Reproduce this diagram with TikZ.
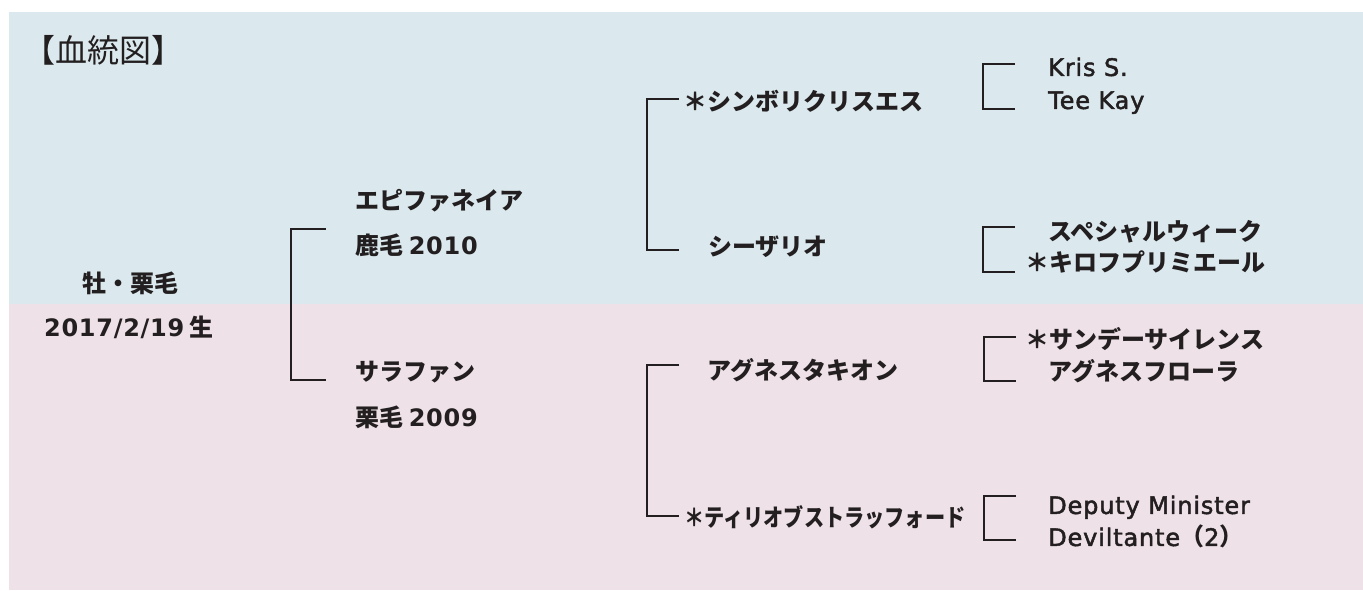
\documentclass[tikz,border=0pt]{standalone}
\usepackage{fontspec}
\setmainfont{Noto Sans CJK JP}
\newfontfamily\latin{DejaVu Sans}[LetterSpace=3]
\newfontfamily\latinmed{DejaVu Sans}[LetterSpace=3.5, FakeBold=2]
\newfontfamily\jpnarrow{Noto Sans CJK JP}[FakeStretch=0.84]
\usepackage{xcolor}
\usepackage{tikz}
\usetikzlibrary{positioning}
\definecolor{bgblue}{RGB}{219,233,238}
\definecolor{bgpink}{RGB}{238,225,231}
\definecolor{ink}{RGB}{35,31,32}
\newcommand{\eng}[1]{{\latinmed\mdseries #1}}
\tikzset{
    horse/.style={
        anchor=west, inner sep=0pt,
        text height=0.87em, text depth=0.13em,
        yshift=-3pt,
        text=ink,
        font=\bfseries\fontsize{18pt}{18pt}\selectfont,
    },
    narrowhorse/.style={
        horse,
        font=\jpnarrow\bfseries\fontsize{18pt}{18pt}\selectfont,
    },
    heading/.style={
        anchor=west, inner sep=0pt,
        text height=0.87em, text depth=0.13em,
        yshift=-3pt,
        text=ink,
        font=\fontsize{24pt}{24pt}\selectfont,
    },
    pedline/.style={draw=ink, line width=1.5pt},
}

\begin{document}
\begin{tikzpicture}[x=0.75pt, y=-0.75pt]
    \useasboundingbox (0,0) rectangle (1363,590);
    % background bands
    \fill[bgblue] (9,12) rectangle (1363,304);
    \fill[bgpink] (9,304) rectangle (1363,590);

    \node (title) [heading] at (23,54) {【血統図】};

    % the horse itself
    \node (sex) [horse, anchor=center] at (130,284) {牡・栗毛};
    \node (birth) [horse, anchor=center] at (129,328) {{\latin 2017/2/19} 生};

    % parents
    \node (sire) [horse] at (355,201) {エピファネイア};
    \node (sirecoat) [horse] at (355,246) {鹿毛 {\latin 2010}};
    \node (dam) [horse] at (355,372) {サラファン};
    \node (damcoat) [horse] at (355,418) {栗毛 {\latin 2009}};

    % grandparents
    \node (ss) [horse] at (683,102) {＊シンボリクリスエス};
    \node (sd) [horse] at (708,247) {シーザリオ};
    \node (ds) [horse] at (707,371) {アグネスタキオン};
    \node (dd) [narrowhorse] at (684,518) {＊ティリオブストラッフォード};

    % great-grandparents
    \node (sss) [horse] at (1048,67) {\eng{Kris S.}};
    \node (ssd) [horse] at (1048,100) {\eng{Tee Kay}};
    \node (sds) [horse] at (1048,232) {スペシャルウィーク};
    \node (sdd) [horse] at (1025,263) {＊キロフプリミエール};
    \node (dss) [horse] at (1025,340) {＊サンデーサイレンス};
    \node (dsd) [horse] at (1048,372) {アグネスフローラ};
    \node (dds) [horse] at (1048,505) {\eng{Deputy Minister}};
    \node (ddd) [horse] at (1048,537) {\eng{Deviltante}（\eng{2}）};

    % bracket ends
    \coordinate (p1) at (326,229);
    \coordinate (p2) at (326,380);
    \coordinate (g1) at (679,99);
    \coordinate (g2) at (679,250);
    \coordinate (g3) at (679,365);
    \coordinate (g4) at (679,516);
    \coordinate (e1) at (1015,64);
    \coordinate (e2) at (1015,109);
    \coordinate (e3) at (1015,227);
    \coordinate (e4) at (1015,272);
    \coordinate (e5) at (1016,337);
    \coordinate (e6) at (1016,381);
    \coordinate (e7) at (1016,496);
    \coordinate (e8) at (1016,540);

    % brackets
    \foreach \a/\b/\d in {p1/p2/35, g1/g2/32, g3/g4/32, e1/e2/32, e3/e4/32, e5/e6/32, e7/e8/32} {
        \draw [pedline] (\a) -- ++(-\d,0) |- (\b);
    }
\end{tikzpicture}
\end{document}
